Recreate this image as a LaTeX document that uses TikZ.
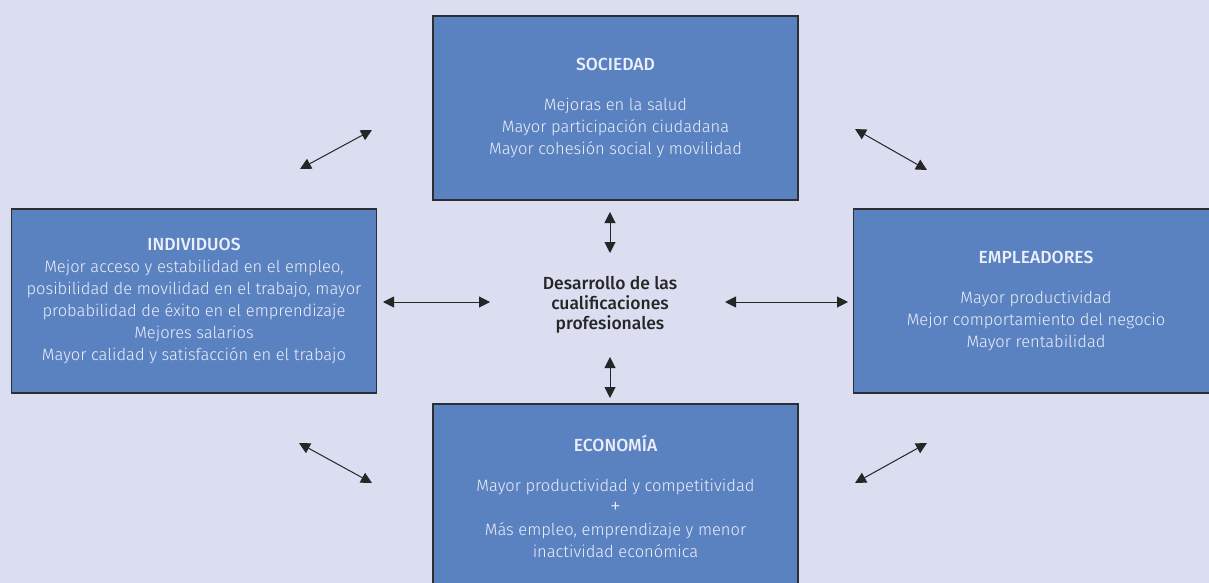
\documentclass[tikz,border=0pt]{standalone}
\usepackage{fontspec}
\setmainfont{Fira Sans Light}[BoldFont={Fira Sans Medium}]
\usetikzlibrary{arrows.meta,positioning}
\definecolor{fondo}{RGB}{218,222,240}
\definecolor{azulcaja}{RGB}{91,130,192}
\definecolor{borde}{RGB}{45,45,52}
\definecolor{letra}{RGB}{236,239,250}
\newcommand{\titulo}[1]{{\fontsize{17.5}{22}\selectfont\bfseries #1}}

\begin{document}
\begin{tikzpicture}[x=1pt,y=-1pt,
    caja/.style={draw=borde, fill=azulcaja, line width=1.3pt, minimum width=365pt,
      minimum height=184pt, inner sep=0pt, text=letra, align=center,
      font=\fontsize{16.5}{22}\selectfont},
    flecha/.style={{Triangle[length=11pt,width=11pt]}-{Triangle[length=11pt,width=11pt]},
      line width=1pt, black!85}]
    \fill[fondo] (0,0) rectangle (1209,583);
    \useasboundingbox (0,0) rectangle (1209,583);
    % cajas
    \node[caja] (soc) at (615.5,108) {\titulo{SOCIEDAD}\\[18pt]
      Mejoras en la salud\\ Mayor participación ciudadana\\ Mayor cohesión social y movilidad};
    \node[caja] (ind) at (194,301) {\titulo{INDIVIDUOS}\\
      Mejor acceso y estabilidad en el empleo,\\
      posibilidad de movilidad en el trabajo, mayor\\
      probabilidad de éxito en el emprendizaje\\ Mejores salarios\\
      Mayor calidad y satisfacción en el trabajo};
    \node[caja] (emp) at (1036,301) {\titulo{EMPLEADORES}\\[18pt]
      Mayor productividad\\ Mejor comportamiento del negocio\\ Mayor rentabilidad};
    \node[caja] (eco) at (615.5,496) {\titulo{ECONOMÍA}\\[18pt]
      Mayor productividad y competitividad\\ {\fontsize{22}{22}\selectfont +}\\
      Más empleo, emprendizaje y menor\\ inactividad económica};
    \node[align=center, font=\fontsize{17.5}{20}\selectfont\bfseries, text=black!85] (centro)
      at (610,305) {Desarrollo de las\\ cualificaciones\\ profesionales};
    % extremos de las flechas
    \coordinate (s1) at (610,212);
    \coordinate (s2) at (610,253);
    \coordinate (e1) at (610,357);
    \coordinate (e2) at (610,398);
    \coordinate (i1) at (383,302);
    \coordinate (i2) at (490,302);
    \coordinate (m1) at (725,302);
    \coordinate (m2) at (848,302);
    \coordinate (d1) at (300,169);
    \coordinate (d2) at (372,130);
    \coordinate (d3) at (855,129);
    \coordinate (d4) at (927,170);
    \coordinate (d5) at (299,443);
    \coordinate (d6) at (372,483);
    \coordinate (d7) at (855,483);
    \coordinate (d8) at (927,443);
    \draw[flecha] (s1) -- (s2);
    \draw[flecha] (e1) -- (e2);
    \draw[flecha] (i1) -- (i2);
    \draw[flecha] (m1) -- (m2);
    \draw[flecha] (d1) -- (d2);
    \draw[flecha] (d3) -- (d4);
    \draw[flecha] (d5) -- (d6);
    \draw[flecha] (d7) -- (d8);
\end{tikzpicture}
\end{document}
